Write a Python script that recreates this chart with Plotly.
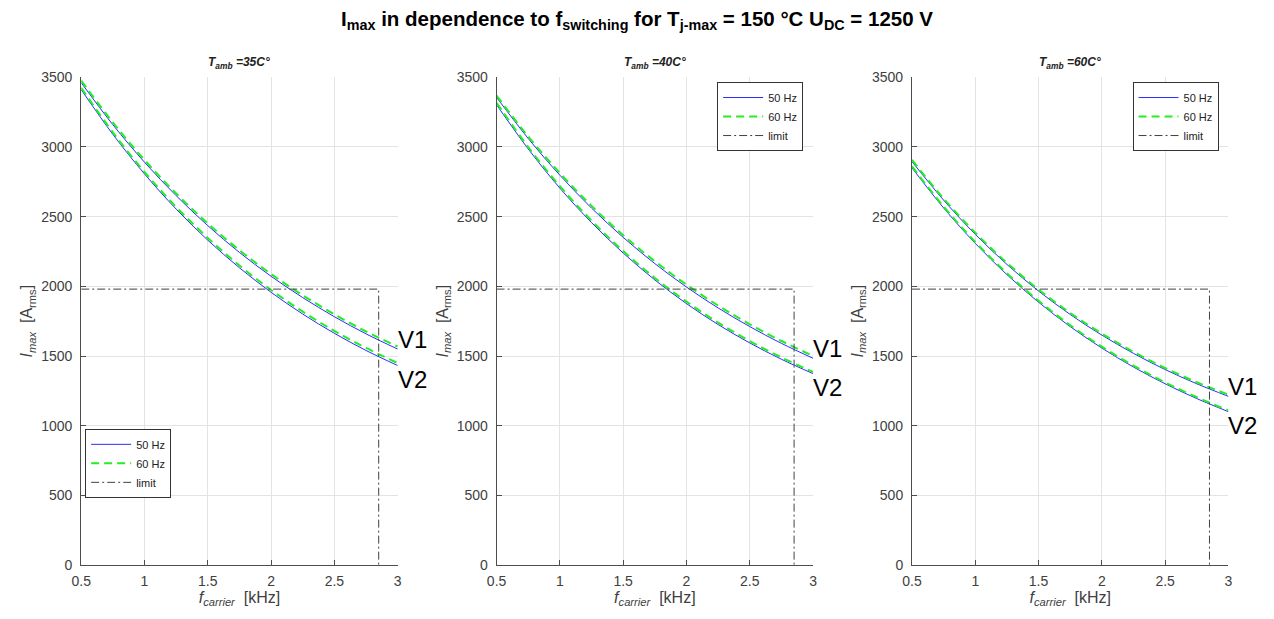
import plotly.graph_objects as go
from plotly.subplots import make_subplots

# ---------------- data ----------------
freq_khz = [0.5, 0.75, 1.0, 1.25, 1.5, 1.75, 2.0, 2.25, 2.5, 2.75, 3.0]
t_amb = ["35", "40", "60"]

# T_amb = 35 °C
i35_v1_50 = [3460, 3159, 2890, 2650, 2435, 2243, 2072, 1919, 1782, 1659, 1550]
i35_v1_60 = [3476, 3175, 2906, 2666, 2451, 2259, 2088, 1936, 1799, 1676, 1568]
i35_v2_50 = [3410, 3090, 2806, 2554, 2331, 2133, 1957, 1801, 1663, 1540, 1432]
i35_v2_60 = [3424, 3104, 2820, 2569, 2347, 2149, 1974, 1818, 1680, 1558, 1450]
# T_amb = 40 °C
i40_v1_50 = [3355, 3060, 2797, 2561, 2351, 2163, 1995, 1845, 1711, 1591, 1484]
i40_v1_60 = [3368, 3074, 2812, 2577, 2367, 2180, 2012, 1862, 1728, 1608, 1501]
i40_v2_50 = [3302, 2985, 2704, 2457, 2239, 2046, 1876, 1726, 1594, 1477, 1374]
i40_v2_60 = [3316, 2999, 2718, 2471, 2253, 2060, 1890, 1740, 1607, 1490, 1386]
# T_amb = 60 °C
i60_v1_50 = [2895, 2618, 2373, 2157, 1966, 1798, 1650, 1519, 1403, 1301, 1211]
i60_v1_60 = [2906, 2629, 2384, 2168, 1977, 1809, 1661, 1530, 1414, 1312, 1223]
i60_v2_50 = [2850, 2562, 2308, 2084, 1886, 1711, 1557, 1421, 1301, 1195, 1101]
i60_v2_60 = [2860, 2572, 2318, 2094, 1896, 1721, 1567, 1431, 1311, 1205, 1110]

limit_current_a = 1980
limit_freq_khz = 2.85

y_ticks = [0, 500, 1000, 1500, 2000, 2500, 3000, 3500]
x_ticks = [0.5, 1, 1.5, 2, 2.5, 3]

panels = [
    (i35_v1_50, i35_v1_60, i35_v2_50, i35_v2_60),
    (i40_v1_50, i40_v1_60, i40_v2_50, i40_v2_60),
    (i60_v1_50, i60_v1_60, i60_v2_50, i60_v2_60),
]

# ---------------- layout geometry ----------------
W, H = 1274, 619
x_px = [(72, 392), (492, 812), (912, 1232)]
y_top, y_bot = 71, 572
legend_pos = [(76, 432), (715, 76), (1135, 76)]

BLUE = "#2b2bff"
GREEN = "#22ee22"
LIMIT = "#404040"
AX = "#4d4d4d"
FONT = "Liberation Sans, Arial, sans-serif"

fig = make_subplots(rows=1, cols=3)

for k, (v1_50, v1_60, v2_50, v2_60) in enumerate(panels):
    leg = "legend" if k == 0 else f"legend{k+1}"
    row, col = 1, k + 1
    for j, (s50, s60) in enumerate([(v1_50, v1_60), (v2_50, v2_60)]):
        fig.add_trace(go.Scatter(x=freq_khz, y=s50, mode="lines", name="50 Hz",
                                 line=dict(color=BLUE, width=1, shape="spline"),
                                 legend=leg, showlegend=(j == 0), legendrank=1),
                      row=row, col=col)
        fig.add_trace(go.Scatter(x=freq_khz, y=s60, mode="lines", name="60 Hz",
                                 line=dict(color=GREEN, width=2, dash="8px,5px", shape="spline"),
                                 legend=leg, showlegend=(j == 0), legendrank=2),
                      row=row, col=col)
    fig.add_trace(go.Scatter(x=[freq_khz[0], limit_freq_khz, limit_freq_khz],
                             y=[limit_current_a, limit_current_a, 0],
                             mode="lines", name="limit",
                             line=dict(color=LIMIT, width=1, dash="8px,3px,2px,3px"),
                             legend=leg, showlegend=True, legendrank=3),
                  row=row, col=col)

    xa = "xaxis" if k == 0 else f"xaxis{k+1}"
    ya = "yaxis" if k == 0 else f"yaxis{k+1}"
    x0, x1 = x_px[k]
    fig.update_layout(**{
        xa: dict(
            domain=[x0 / W, x1 / W], range=[0.5, 3], tickvals=x_ticks,
            ticktext=[str(v) for v in x_ticks],
            showgrid=True, gridcolor="#e3e3e3", zeroline=False,
            showline=True, linecolor=AX, linewidth=1, mirror=False,
            ticks="inside", ticklen=5, tickcolor=AX, ticklabelstandoff=3,
            tickfont=dict(family=FONT, size=14, color="#404040"),
            title=dict(text="<i>f</i><sub><i>carrier</i></sub>  [kHz]",
                       font=dict(family=FONT, size=16, color="#404040"), standoff=2),
        ),
        ya: dict(
            domain=[1 - y_bot / H, 1 - y_top / H], range=[0, 3500], tickvals=y_ticks,
            showgrid=True, gridcolor="#e3e3e3", zeroline=False,
            showline=True, linecolor=AX, linewidth=1, mirror=False,
            ticks="inside", ticklen=5, tickcolor=AX, ticklabelstandoff=5,
            tickfont=dict(family=FONT, size=14, color="#404040"),
            title=dict(text="<i>I</i><sub><i>max</i></sub>  [A<sub>rms</sub>]",
                       font=dict(family=FONT, size=16, color="#404040"), standoff=4),
        ),
    })

    # subplot title
    fig.add_annotation(x=(x0 + x1) / 2 / W, y=1 - (y_top - 4) / H, xref="paper", yref="paper",
                       text=f"<b><i>T</i><sub><i>amb</i></sub><i> ={t_amb[k]}C°</i></b>",
                       showarrow=False, xanchor="center", yanchor="bottom",
                       font=dict(family=FONT, size=12, color="#222222"))
    # V1 / V2 labels
    xr = "x" if k == 0 else f"x{k+1}"
    yr = "y" if k == 0 else f"y{k+1}"
    fig.add_annotation(x=freq_khz[-1], y=v1_50[-1], xref=xr, yref=yr, text="V1",
                       showarrow=False, xanchor="left", yanchor="bottom",
                       font=dict(family=FONT, size=24, color="black"), xshift=-2, yshift=-6)
    fig.add_annotation(x=freq_khz[-1], y=v2_50[-1], xref=xr, yref=yr, text="V2",
                       showarrow=False, xanchor="left", yanchor="top",
                       font=dict(family=FONT, size=24, color="black"), xshift=-2, yshift=2)

    lx, ly = legend_pos[k]
    legend_cfg = dict(x=lx / W, y=1 - ly / H, xanchor="left", yanchor="top",
                      bgcolor="white", bordercolor="#333333", borderwidth=1,
                      font=dict(family=FONT, size=11, color="#222222"),
                      itemwidth=40, tracegroupgap=0, traceorder="normal")
    fig.update_layout(**{leg: legend_cfg})

fig.update_layout(
    width=W, height=H,
    margin=dict(l=0, r=0, t=0, b=0),
    paper_bgcolor="white", plot_bgcolor="white",
    title=dict(text="<b>I<sub>max</sub> in dependence to f<sub>switching</sub> for "
                    "T<sub>j-max</sub> = 150 °C U<sub>DC</sub> = 1250 V</b>",
               x=0.5, xanchor="center", y=1 - 19 / H, yanchor="middle",
               font=dict(family=FONT, size=20.5, color="black")),
)

fig.write_html("out.html")
